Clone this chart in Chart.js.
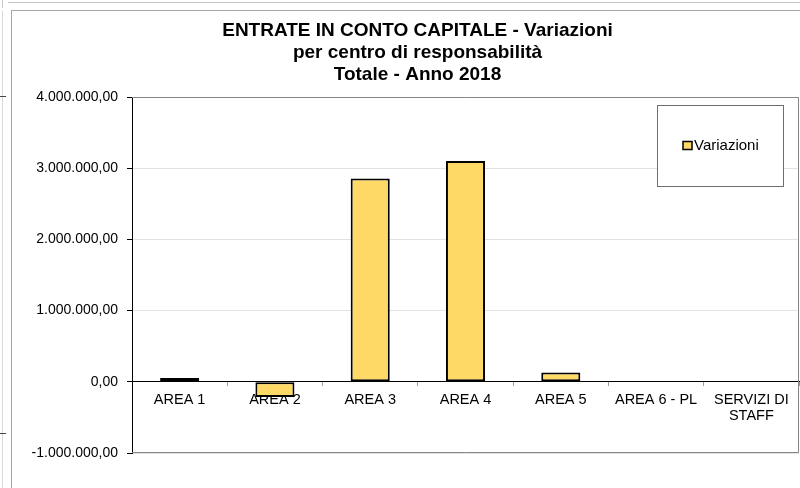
<!DOCTYPE html>
<html lang="it">
<head>
  <meta charset="UTF-8">
  <title>Entrate in conto capitale - Variazioni</title>
  <script src="https://cdn.jsdelivr.net/npm/chart.js"></script>
  <style>
    html, body { margin: 0; padding: 0; background: #fff; }
    .wrap { position: relative; width: 800px; height: 488px; overflow: hidden; }
    .line { position: absolute; background: #c8c8c8; }
    canvas { position: absolute; left: 0; top: 0; }
  </style>
</head>
<body>
  <div class="wrap">
    <!-- spreadsheet cell edges and chart frame -->
    <div class="line" style="left:8px; top:2px; width:792px; height:1px;"></div>
    <div class="line" style="left:2px; top:0; width:1px; height:8px;"></div>
    <div class="line" style="left:2px; top:11px; width:1px; height:477px; background:#d8d8d8;"></div>
    <div class="line" style="left:0; top:96px; width:6px; height:1px; background:#444;"></div>
    <div class="line" style="left:0; top:433px; width:6px; height:1px; background:#444;"></div>
    <div class="line" style="left:11px; top:10px; width:1px; height:478px; background:#a6a6a6;"></div>
    <div class="line" style="left:11px; top:10px; width:789px; height:1px; background:#a6a6a6;"></div>
    <canvas id="chart" width="800" height="488"></canvas>
  </div>

  <script>
    // data
    const categories = ['AREA 1', 'AREA 2', 'AREA 3', 'AREA 4', 'AREA 5', 'AREA 6 - PL', ['SERVIZI DI', 'STAFF']];
    const variazioni = [55000, -215000, 2855000, 3100000, 130000, 0, 0];
    const seriesLabel = 'Variazioni';
    const titleLines = ['ENTRATE IN CONTO CAPITALE - Variazioni', 'per centro di responsabilità', 'Totale - Anno 2018'];
    const yMin = -1000000;
    const yMax = 4000000;
    const yStep = 1000000;

    const barFill = '#FFD966';
    const fontFamily = "'Liberation Sans', Arial, sans-serif";

    // 4000000 -> "4.000.000,00"
    function formatIt(v) {
      const neg = v < 0;
      const parts = Math.abs(v).toFixed(2).split('.');
      const intPart = parts[0].replace(/\B(?=(\d{3})+(?!\d))/g, '.');
      return (neg ? '-' : '') + intPart + ',' + parts[1];
    }

    // the title sits a bit right of the canvas centre, like the excel frame
    const titleShift = {
      id: 'titleShift',
      afterLayout(chart) {
        if (chart.titleBlock) chart.titleBlock.left = 36;
      }
    };

    // gray frame round the plot area (top, right, bottom)
    const plotFrame = {
      id: 'plotFrame',
      afterDraw(chart) {
        const { ctx, chartArea: a } = chart;
        ctx.save();
        ctx.strokeStyle = '#868686';
        ctx.lineWidth = 1;
        ctx.beginPath();
        ctx.moveTo(a.left, a.top + 0.5);
        ctx.lineTo(a.right - 0.5, a.top + 0.5);
        ctx.lineTo(a.right - 0.5, a.bottom - 0.5);
        ctx.lineTo(a.left, a.bottom - 0.5);
        ctx.stroke();
        ctx.restore();
      }
    };

    // boxed legend inside the plot, top right
    const boxLegend = {
      id: 'boxLegend',
      afterDraw(chart) {
        const { ctx, chartArea: a } = chart;
        const ds = chart.data.datasets[0];
        const w = 126, h = 81;
        const x = a.right - 16 - w, y = a.top + 8;
        ctx.save();
        ctx.fillStyle = '#fff';
        ctx.fillRect(x, y, w, h);
        ctx.strokeStyle = '#6e6e6e';
        ctx.lineWidth = 1;
        ctx.strokeRect(x + 0.5, y + 0.5, w, h);
        const cy = y + h / 2;
        ctx.fillStyle = ds.backgroundColor;
        ctx.fillRect(x + 26, cy - 4, 9, 8);
        ctx.strokeStyle = '#000';
        ctx.lineWidth = 1.5;
        ctx.strokeRect(x + 26, cy - 4, 9, 8);
        ctx.fillStyle = '#000';
        ctx.font = '15px ' + fontFamily;
        ctx.textBaseline = 'middle';
        ctx.fillText(ds.label, x + 37, cy + 0.5);
        ctx.restore();
      }
    };

    new Chart(document.getElementById('chart'), {
      type: 'bar',
      data: {
        labels: categories,
        datasets: [{
          label: seriesLabel,
          data: variazioni,
          backgroundColor: barFill,
          borderColor: '#000',
          borderWidth: 2,
          borderSkipped: false,
          categoryPercentage: 1,
          barPercentage: 0.41
        }]
      },
      options: {
        responsive: false,
        animation: false,
        layout: { padding: { left: 0, right: 1, top: 0, bottom: 35 } },
        plugins: {
          legend: { display: false },
          tooltip: { enabled: false },
          title: {
            display: true,
            text: titleLines,
            color: '#000',
            font: { family: fontFamily, size: 19, weight: 'bold', lineHeight: 1.158 },
            padding: { top: 20, bottom: 11 }
          }
        },
        scales: {
          x: {
            position: { y: 0 },
            grid: { drawOnChartArea: false, tickLength: 4, tickColor: '#9a9a9a' },
            border: { color: '#000', width: 1 },
            ticks: {
              color: '#000',
              font: { family: fontFamily, size: 14.5, lineHeight: 1.12 },
              padding: 6,
              autoSkip: false,
              maxRotation: 0
            }
          },
          y: {
            min: yMin,
            max: yMax,
            grid: { color: '#e2e2e2', tickColor: '#000', tickLength: 5 },
            border: { color: '#000', width: 1 },
            ticks: {
              stepSize: yStep,
              color: '#000',
              font: { family: fontFamily, size: 14 },
              padding: 9,
              callback: v => formatIt(v)
            },
            afterFit(scale) { scale.width = 132; }
          }
        }
      },
      plugins: [titleShift, plotFrame, boxLegend]
    });
  </script>
</body>
</html>
